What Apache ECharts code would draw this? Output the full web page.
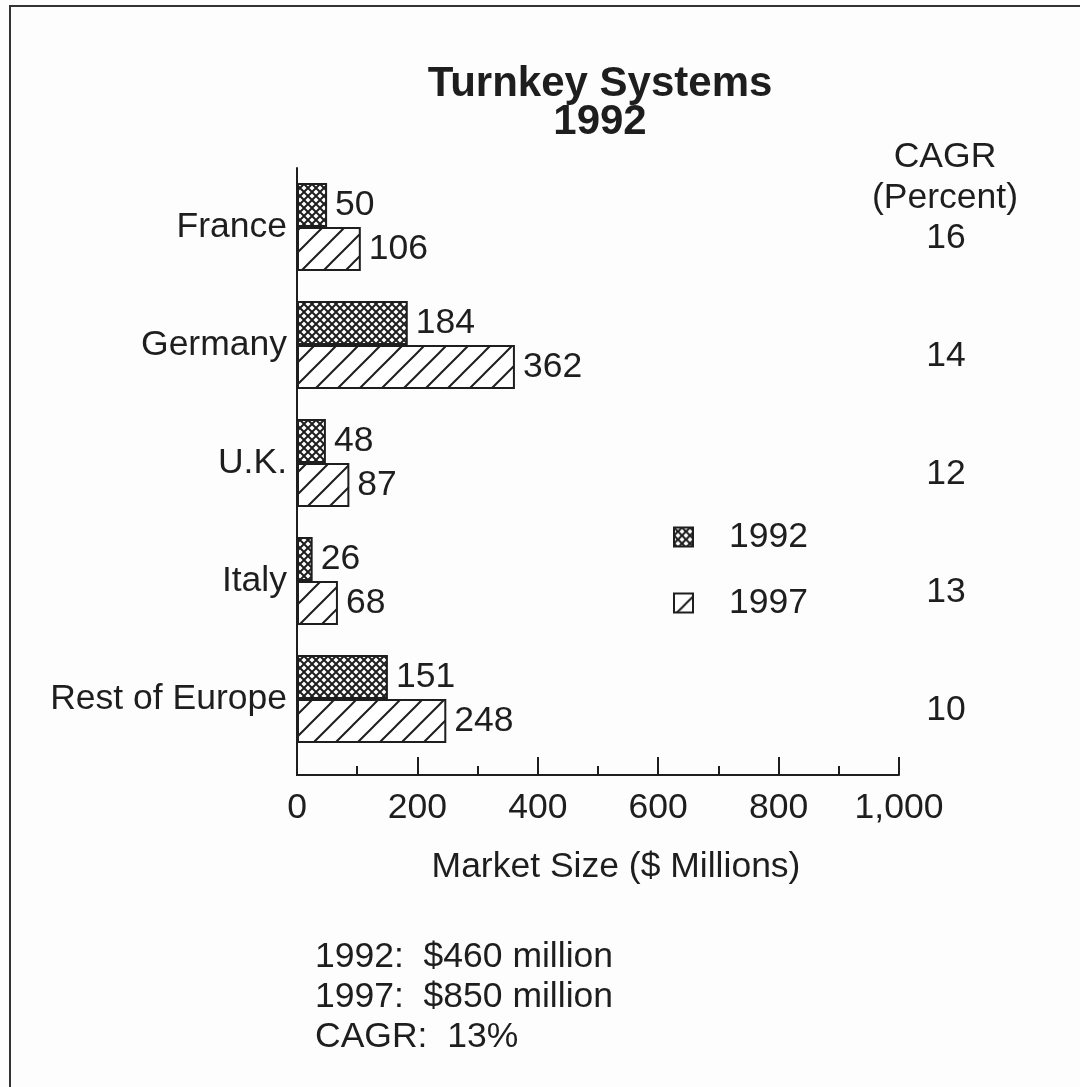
<!DOCTYPE html>
<html>
<head>
<meta charset="utf-8">
<script src="https://cdn.jsdelivr.net/npm/echarts@6/dist/echarts.min.js"></script>
<style>
  html, body { margin: 0; padding: 0; background: #fdfdfd; }
  #chart { width: 1080px; height: 1087px; }
</style>
</head>
<body>
<div id="chart"></div>
<script>
var categories = ['France', 'Germany', 'U.K.', 'Italy', 'Rest of Europe'];
var values1992 = [50, 184, 48, 26, 151];
var values1997 = [106, 362, 87, 68, 248];
var cagrValues = [16, 14, 12, 13, 10];
var seriesNames = ['1992', '1997'];
var totalLines = ['1992:  $460 million', '1997:  $850 million', 'CAGR:  13%'];

var FONT = 'Liberation Sans, Arial, Helvetica, sans-serif';
var FS = 35.5;
var INK = '#1e1e1e';

// fill patterns, drawn on small canvases
function crossHatch() {
	var c = document.createElement('canvas');
	c.width = 8; c.height = 8;
	var g = c.getContext('2d');
	g.fillStyle = '#fff';
	g.fillRect(0, 0, 8, 8);
	g.strokeStyle = INK;
	g.lineWidth = 2;
	g.beginPath();
	g.moveTo(0, 0); g.lineTo(8, 8);
	g.moveTo(0, 8); g.lineTo(8, 0);
	g.stroke();
	return c;
}
function diagonal() {
	var s = 22;
	var c = document.createElement('canvas');
	c.width = s; c.height = s;
	var g = c.getContext('2d');
	g.fillStyle = '#fff';
	g.fillRect(0, 0, s, s);
	g.strokeStyle = INK;
	g.lineWidth = 2;
	g.beginPath();
	g.moveTo(-2, s + 2); g.lineTo(s + 2, -2);
	g.moveTo(-2, 2); g.lineTo(2, -2);
	g.moveTo(s - 2, s + 2); g.lineTo(s + 2, s - 2);
	g.stroke();
	return c;
}

var barLabel = {
	show: true,
	position: 'right',
	distance: 8,
	color: INK,
	fontFamily: FONT,
	fontSize: FS
};

var myChart = echarts.init(document.getElementById('chart'));
var option = {
	backgroundColor: '#fdfdfd',
	animation: false,
	title: {
		text: 'Turnkey Systems\n1992',
		left: 595,
		top: 60,
		textAlign: 'center',
		textStyle: {
			fontFamily: FONT,
			fontSize: 42,
			fontWeight: 'bold',
			lineHeight: 38,
			color: INK
		}
	},
	legend: {
		orient: 'vertical',
		left: 668,
		top: 514,
		itemWidth: 19,
		itemHeight: 19,
		itemGap: 30,
		icon: 'rect',
		data: seriesNames,
		textStyle: { fontFamily: FONT, fontSize: FS, color: INK, padding: [0, 0, 0, 31] }
	},
	grid: {
		left: 297,
		right: 181,
		top: 168,
		height: 590
	},
	xAxis: {
		type: 'value',
		min: 0,
		max: 1000,
		interval: 200,
		offset: 17,
		axisLine: { show: true, lineStyle: { color: INK, width: 2 } },
		axisTick: { show: true, inside: true, length: 18, lineStyle: { color: INK, width: 2 } },
		minorTick: { show: true, splitNumber: 2, length: 9, lineStyle: { color: INK, width: 2 } },
		splitLine: { show: false },
		axisLabel: {
			margin: 15,
			color: INK,
			fontFamily: FONT,
			fontSize: FS,
			formatter: function (v) { return v.toLocaleString('en-US'); }
		},
		name: 'Market Size ($ Millions)',
		nameLocation: 'middle',
		nameGap: 74,
		nameTextStyle: { fontFamily: FONT, fontSize: FS, color: INK, padding: [0, 0, 0, 36] }
	},
	yAxis: [{
		type: 'category',
		inverse: true,
		data: categories,
		axisLine: { show: true, lineStyle: { color: INK, width: 2 } },
		axisTick: { show: false },
		axisLabel: { margin: 10, color: INK, fontFamily: FONT, fontSize: FS }
	}, {
		type: 'category',
		inverse: true,
		position: 'right',
		data: categories,
		axisLine: { show: false },
		axisTick: { show: false },
		axisLabel: {
			margin: 47,
			align: 'center',
			verticalAlign: 'top',
			lineHeight: 22,
			color: INK,
			fontFamily: FONT,
			fontSize: FS,
			formatter: function (v, i) { return String(cagrValues[i]); }
		}
	}],
	series: [{
		name: seriesNames[0],
		type: 'bar',
		data: values1992,
		barWidth: 44,
		barGap: '0%',
		itemStyle: { color: { image: crossHatch(), repeat: 'repeat' }, borderColor: INK, borderWidth: 2 },
		label: barLabel
	}, {
		name: seriesNames[1],
		type: 'bar',
		data: values1997,
		barWidth: 44,
		barGap: '0%',
		itemStyle: { color: { image: diagonal(), repeat: 'repeat' }, borderColor: INK, borderWidth: 2 },
		label: barLabel
	}],
	graphic: [{
		type: 'polyline',
		shape: { points: [[10, 1087], [10, 6], [1080, 6]] },
		style: { stroke: '#333', lineWidth: 2, fill: null }
	}, {
		// vertical axis runs down to the offset x axis
		type: 'line',
		shape: { x1: 297, y1: 757, x2: 297, y2: 776 },
		style: { stroke: INK, lineWidth: 2 }
	}, {
		type: 'text',
		x: 945,
		y: 137,
		style: {
			text: 'CAGR\n(Percent)',
			align: 'center',
			verticalAlign: 'top',
			lineHeight: 41,
			font: FS + 'px ' + FONT,
			fill: INK
		}
	}, {
		type: 'text',
		x: 315,
		y: 937,
		style: {
			text: totalLines.join('\n'),
			align: 'left',
			verticalAlign: 'top',
			lineHeight: 40,
			font: FS + 'px ' + FONT,
			fill: INK
		}
	}]
};
myChart.setOption(option);
</script>
</body>
</html>
